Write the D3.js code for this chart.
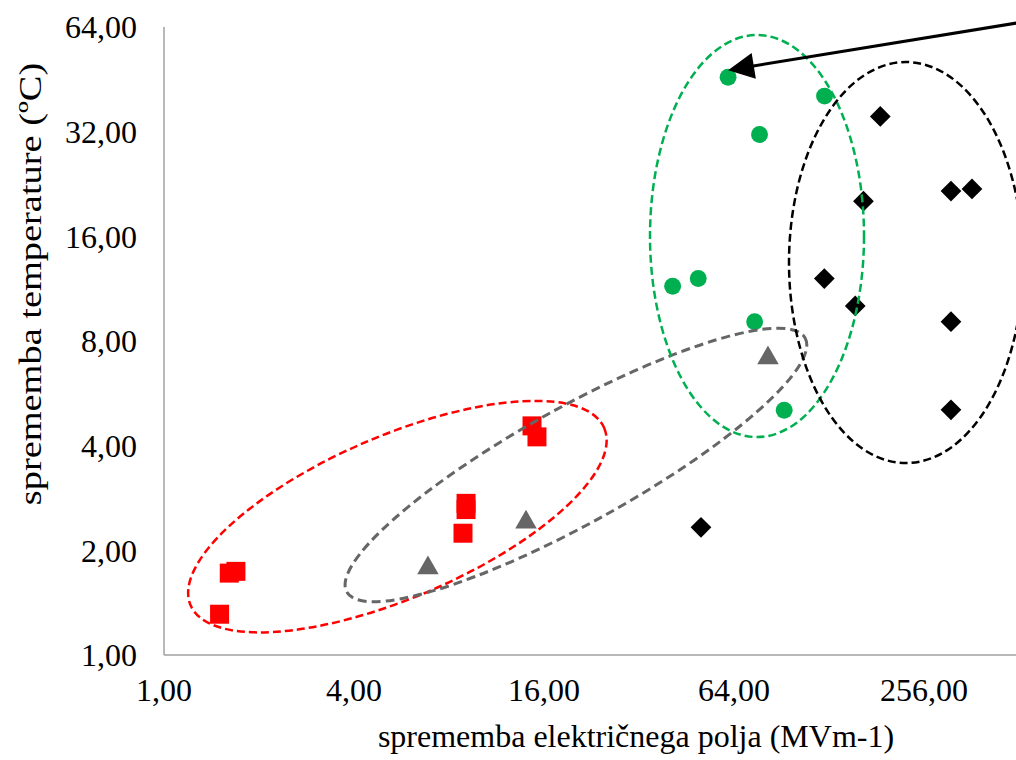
<!DOCTYPE html>
<html>
<head>
<meta charset="utf-8">
<script src="https://cdn.jsdelivr.net/npm/d3@7"></script>
<style>
  body { margin: 0; background: #fff; overflow: hidden; }
  svg { display: block; font-family: "Liberation Serif", "Times New Roman", serif; }
</style>
</head>
<body>
<script>
// sprememba električnega polja (x) / sprememba temperature (y)
var redX = [1.50, 1.61, 1.69, 8.86, 9.06, 9.06, 14.66, 15.2];
var redY = [1.31, 1.72, 1.74, 2.24, 2.73, 2.62, 4.56, 4.24];

var grayX = [6.86, 14.03, 82.0];
var grayY = [1.78, 2.41, 7.15];

var greenX = [61.3, 123.9, 77.1, 40.9, 49.3, 74.4, 92.3];
var greenY = [45.9, 40.5, 31.4, 11.5, 12.1, 9.09, 5.06];

var blackX = [186.1, 311.7, 363.3, 164.6, 123.7, 155.0, 311.7, 311.7, 50.3];
var blackY = [35.4, 21.6, 21.9, 20.2, 12.1, 10.09, 9.09, 5.07, 2.33];

var xTicks = [1, 4, 16, 64, 256];
var yTicks = [1, 2, 4, 8, 16, 32, 64];

// group outlines, centred in data units
var groupCx = [5.49, 20.2, 75.7, 224.5];
var groupCy = [2.50, 3.52, 16.03, 13.45];

var W = 1016, H = 760;

var svg = d3.select("body").append("svg")
  .attr("width", W)
  .attr("height", H);

var x = d3.scaleLog().base(2).domain([1, 512]).range([164, 164 + 9 * 95]);
var y = d3.scaleLog().base(2).domain([1, 64]).range([655, 27]);

var fmt = function (v) { return v.toFixed(2).replace(".", ","); };

// axis lines
svg.append("line")
  .attr("x1", x(1)).attr("x2", x(1))
  .attr("y1", y(64)).attr("y2", y(1))
  .attr("stroke", "#a0a0a0").attr("stroke-width", 1.5);
svg.append("line")
  .attr("x1", x(1)).attr("x2", W)
  .attr("y1", y(1)).attr("y2", y(1))
  .attr("stroke", "#a0a0a0").attr("stroke-width", 1.5);

// tick labels
svg.selectAll(".ylab")
  .data(yTicks)
  .enter().append("text")
  .attr("class", "ylab")
  .attr("x", 137)
  .attr("y", function (d) { return y(d); })
  .attr("dy", "0.35em")
  .attr("text-anchor", "end")
  .style("font-size", "32px")
  .text(fmt);

svg.selectAll(".xlab")
  .data(xTicks)
  .enter().append("text")
  .attr("class", "xlab")
  .attr("x", function (d) { return x(d); })
  .attr("y", 701)
  .attr("text-anchor", "middle")
  .style("font-size", "32px")
  .text(fmt);

// axis titles
svg.append("text")
  .attr("x", 636)
  .attr("y", 747)
  .attr("text-anchor", "middle")
  .style("font-size", "32px")
  .text("sprememba električnega polja (MVm-1)");

svg.append("text")
  .attr("transform", "translate(41,284) rotate(-90) scale(1.2,1)")
  .attr("text-anchor", "middle")
  .style("font-size", "32px")
  .text("sprememba temperature (ºC)");

function pts(xs, ys) {
  return xs.map(function (v, i) { return { x: v, y: ys[i] }; });
}

function drawSeries(data, type, size, color, rot) {
  svg.append("g").selectAll("path")
    .data(data)
    .enter().append("path")
    .attr("d", d3.symbol().type(type).size(size))
    .attr("transform", function (d) {
      return "translate(" + x(d.x) + "," + y(d.y) + ")" + (rot ? " rotate(" + rot + ")" : "");
    })
    .attr("fill", color);
}

drawSeries(pts(blackX, blackY), d3.symbolSquare, 215, "#000000", 45);
drawSeries(pts(greenX, greenY), d3.symbolCircle, 225, "#00b050", 0);
drawSeries(pts(grayX, grayY), d3.symbolTriangle, 200, "#666666", 0);
drawSeries(pts(redX, redY), d3.symbolSquare, 361, "#ff0000", 0);

// dashed group outlines
var outlines = [
  { rx: 225, ry: 81, rot: -23.2, color: "#ff0000", w: 2.5, dash: "8,4" },
  { rx: 262, ry: 58, rot: -29, color: "#666666", w: 3, dash: "9,5" },
  { rx: 107, ry: 201, rot: 0, color: "#00b050", w: 2.5, dash: "8,4" },
  { rx: 117, ry: 200.5, rot: 0, color: "#000000", w: 2.5, dash: "8,4" }
];

svg.append("g").selectAll("ellipse")
  .data(outlines)
  .enter().append("ellipse")
  .attr("transform", function (d, i) {
    return "translate(" + x(groupCx[i]) + "," + y(groupCy[i]) + ") rotate(" + d.rot + ")";
  })
  .attr("rx", function (d) { return d.rx; })
  .attr("ry", function (d) { return d.ry; })
  .attr("fill", "none")
  .attr("stroke", function (d) { return d.color; })
  .attr("stroke-width", function (d) { return d.w; })
  .attr("stroke-dasharray", function (d) { return d.dash; });

// arrow pointing at the top green point
var tipX = x(61.3), tipY = y(48.1);
var dirX = 288, dirY = -47;
var len = Math.sqrt(dirX * dirX + dirY * dirY);
var ux = dirX / len, uy = dirY / len;
var headL = 26, headW = 13;
var bx = tipX + ux * headL, by = tipY + uy * headL;

svg.append("line")
  .attr("x1", bx - ux * 2).attr("y1", by - uy * 2)
  .attr("x2", tipX + ux * 420).attr("y2", tipY + uy * 420)
  .attr("stroke", "#000").attr("stroke-width", 3);

svg.append("path")
  .attr("d", "M" + tipX + "," + tipY +
    "L" + (bx - uy * headW) + "," + (by + ux * headW) +
    "L" + (bx + uy * headW) + "," + (by - ux * headW) + "Z")
  .attr("fill", "#000");
</script>
</body>
</html>
